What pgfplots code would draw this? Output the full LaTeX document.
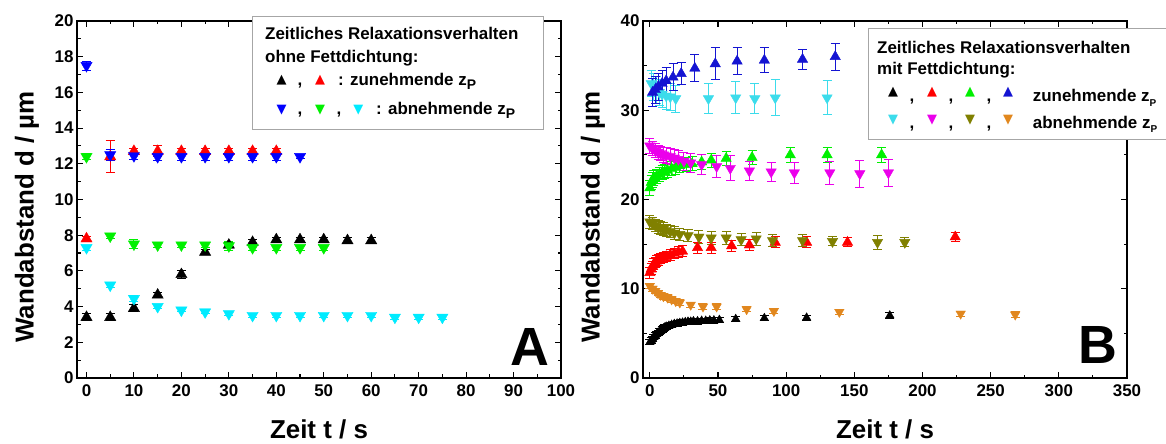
\documentclass[border=0pt]{standalone}
\usepackage{fontspec}
\setmainfont{Liberation Sans}
\newfontfamily\symfont{DejaVu Sans}
\usepackage{pgfplots}
\usepackage{pgfplotstable}
\pgfplotsset{compat=1.18}
\definecolor{cBlue}{RGB}{0,0,255}
\definecolor{cBlueB}{RGB}{20,20,210}
\definecolor{cRed}{RGB}{255,0,0}
\definecolor{cGreen}{RGB}{0,240,0}
\definecolor{cCyan}{RGB}{0,235,255}
\definecolor{cCyanB}{RGB}{60,220,235}
\definecolor{cMag}{RGB}{235,0,235}
\definecolor{cOlive}{RGB}{128,128,0}
\definecolor{cOrange}{RGB}{225,135,30}

% ---------- panel A ----------
\pgfplotstableread{
x y e
0 3.4 0.2
5 3.4 0.2
10 3.9 0.2
15 4.65 0.15
20 5.8 0.2
25 7.05 0.15
30 7.45 0.15
35 7.6 0.15
40 7.75 0.1
45 7.75 0.1
50 7.75 0.1
55 7.7 0.15
60 7.7 0.15
}\Ablack
\pgfplotstableread{
x y e
0 7.8 0.15
5 12.4 0.9
10 12.7 0.15
15 12.7 0.3
20 12.7 0.15
25 12.7 0.15
30 12.7 0.15
35 12.7 0.15
40 12.7 0.15
}\Ared
\pgfplotstableread{
x y e
0 17.5 0.25
5 12.5 0.3
10 12.45 0.2
15 12.4 0.2
20 12.4 0.2
25 12.4 0.2
30 12.4 0.2
35 12.4 0.2
40 12.4 0.2
45 12.4 0.1
}\Ablue
\pgfplotstableread{
x y e
0 12.4 0.15
5 7.95 0.15
10 7.5 0.25
15 7.45 0.15
20 7.45 0.15
25 7.45 0.15
30 7.4 0.25
35 7.3 0.15
40 7.3 0.15
45 7.3 0.15
50 7.3 0.15
}\Agreen
\pgfplotstableread{
x y e
0 7.3 0.15
5 5.2 0.15
10 4.45 0.15
15 4.0 0.1
20 3.8 0.1
25 3.7 0.1
30 3.6 0.1
35 3.5 0.1
40 3.5 0.1
45 3.5 0.1
50 3.5 0.1
55 3.5 0.1
60 3.5 0.1
65 3.4 0.1
70 3.4 0.1
75 3.4 0.1
}\Acyan

% ---------- panel B ----------
\pgfplotstableread{
x y e
0 4.0 0.3
1 4.2 0.3
2 4.4 0.3
3 4.6 0.3
4 4.75 0.3
5 4.9 0.3
6 5.05 0.3
7 5.2 0.3
8 5.3 0.3
9 5.45 0.3
10 5.55 0.3
11 5.65 0.3
12 5.75 0.3
14 5.85 0.3
16 5.95 0.3
18 6.05 0.3
20 6.1 0.3
22 6.15 0.3
24 6.2 0.3
26 6.25 0.3
28 6.3 0.3
30 6.3 0.3
32 6.35 0.3
35 6.35 0.3
38 6.4 0.3
41 6.4 0.3
44 6.45 0.3
47 6.45 0.3
51 6.5 0.3
63 6.6 0.3
84 6.7 0.3
115 6.75 0.3
176 7.0 0.3
}\Bblack
\pgfplotstableread{
x y e
0 11.8 0.6
1 12.2 0.6
2 12.5 0.6
3 12.8 0.6
4 12.95 0.6
5 13.1 0.6
6 13.2 0.6
8 13.4 0.6
10 13.5 0.6
12 13.6 0.6
15 13.8 0.6
18 13.95 0.6
21 14.1 0.6
24 14.2 0.6
35 14.6 0.6
45 14.6 0.6
60 14.8 0.6
73 14.9 0.6
92 15.2 0.6
115 15.2 0.6
145 15.2 0.5
224 15.8 0.5
}\Bred
\pgfplotstableread{
x y e
0 10.3 0.3
2 10.0 0.3
4 9.75 0.3
6 9.5 0.3
8 9.3 0.3
10 9.15 0.3
13 9.0 0.3
16 8.8 0.3
19 8.6 0.3
22 8.45 0.3
30 8.2 0.3
39 8.0 0.3
49 8.0 0.3
71 7.7 0.3
91 7.5 0.3
139 7.4 0.3
228 7.2 0.3
268 7.1 0.3
}\Borange
\pgfplotstableread{
x y e
0 17.5 0.7
2 17.3 0.7
4 17.1 0.7
6 16.9 0.7
8 16.8 0.7
10 16.7 0.7
12 16.55 0.7
15 16.4 0.7
18 16.25 0.7
22 16.1 0.7
28 15.95 0.7
36 15.8 0.7
45 15.7 0.7
56 15.7 0.7
67 15.5 0.7
78 15.6 0.7
90 15.4 0.7
112 15.4 0.7
134 15.3 0.5
167 15.2 0.8
187 15.2 0.5
}\Bolive
\pgfplotstableread{
x y e
0 21.3 0.8
1 21.9 0.8
2 22.2 0.8
3 22.4 0.8
5 22.6 0.8
7 22.8 0.8
9 23.0 0.8
11 23.1 0.8
13 23.25 0.8
16 23.45 0.8
19 23.6 0.8
22 23.8 0.8
27 23.9 0.8
31 24.0 0.8
38 24.2 0.8
45 24.4 0.8
56 24.6 0.8
75 24.7 0.8
103 25.0 0.8
130 25.0 0.8
170 25.0 0.8
}\Bgreen
\pgfplotstableread{
x y e
0 26.0 0.8
2 25.7 0.8
4 25.5 0.8
6 25.3 0.8
8 25.15 0.8
10 25.0 0.8
12 24.9 0.9
15 24.8 0.9
18 24.65 1.0
21 24.5 1.0
25 24.3 1.0
30 24.1 1.1
38 23.9 1.1
49 23.7 1.2
59 23.5 1.4
73 23.2 1.1
89 23.1 1.1
106 23.0 1.2
132 23.0 1.3
154 22.9 1.5
175 23.0 1.5
}\Bmag
\pgfplotstableread{
x y e
1 33.0 1.5
3 32.6 1.5
5 32.3 1.5
7 32.0 1.5
9 31.8 1.5
12 31.6 1.5
15 31.5 1.5
19 31.3 1.5
43 31.3 1.7
63 31.4 1.8
77 31.3 1.7
92 31.4 2.0
130 31.4 1.9
}\Bcyan
\pgfplotstableread{
x y e
2 32.0 1.6
4 32.3 1.5
6 32.6 1.5
9 33.0 1.5
12 33.3 1.5
17 33.7 1.5
23 34.1 1.2
33 34.7 1.5
48 35.2 1.8
64 35.5 1.5
84 35.6 1.4
112 35.7 1.1
136 36.0 1.5
}\Bblue

\pgfplotsset{
  panel/.style={
    scale only axis, width=484bp, height=357bp, anchor=south west,
    axis line style={line width=1.3bp},
    every tick/.style={black, line width=1.1bp},
    major tick length=6bp, minor tick length=3.5bp,
    tick align=inside,
    minor x tick num=1, minor y tick num=1,
    ticklabel style={font=\fontsize{17}{17}\selectfont\bfseries},
    /pgf/number format/assume math mode=true,
    xticklabel style={yshift=-3bp},
    clip=false,
  },
  up/.style={only marks, mark=triangle*, color=#1,
    mark options={solid},
    error bars/y dir=both, error bars/y explicit,
    error bars/error bar style={line width=1bp, color=#1},
    error bars/error mark options={rotate=90, mark size=4.5bp, line width=1bp, color=#1}},
  down/.style={only marks, mark=triangle*, color=#1,
    mark options={solid, rotate=180},
    error bars/y dir=both, error bars/y explicit,
    error bars/error bar style={line width=1bp, color=#1},
    error bars/error mark options={rotate=90, mark size=4.5bp, line width=1bp, color=#1}},
}

\begin{document}
\begin{tikzpicture}
\useasboundingbox (0,0) rectangle (1166bp,444bp);

% ===== Panel A =====
\begin{axis}[panel, at={(77bp,66bp)}, width=484bp,
  xmin=-2, xmax=100, ymin=0, ymax=20,
  xtick={0,10,...,100}, ytick={0,2,...,20}]
\addplot[up=black, mark size=6.5bp] table[x=x,y=y,y error=e] {\Ablack};
\addplot[up=cRed, mark size=6.5bp] table[x=x,y=y,y error=e] {\Ared};
\addplot[down=cBlue, mark size=6.5bp] table[x=x,y=y,y error=e] {\Ablue};
\addplot[down=cGreen, mark size=6.5bp] table[x=x,y=y,y error=e] {\Agreen};
\addplot[down=cCyan, mark size=6.5bp] table[x=x,y=y,y error=e] {\Acyan};
\end{axis}

% ===== Panel B =====
\begin{axis}[panel, at={(643bp,66bp)}, width=484bp,
  xmin=-5, xmax=350, ymin=0, ymax=40,
  xtick={0,50,...,350}, ytick={0,10,...,40}]
\addplot[up=black, mark size=5bp] table[x=x,y=y,y error=e] {\Bblack};
\addplot[down=cOrange, mark size=5.5bp] table[x=x,y=y,y error=e] {\Borange};
\addplot[up=cRed, mark size=6bp] table[x=x,y=y,y error=e] {\Bred};
\addplot[down=cOlive, mark size=6bp] table[x=x,y=y,y error=e] {\Bolive};
\addplot[up=cGreen, mark size=6bp] table[x=x,y=y,y error=e] {\Bgreen};
\addplot[down=cMag, mark size=6bp] table[x=x,y=y,y error=e] {\Bmag};
\addplot[down=cCyanB, mark size=6bp] table[x=x,y=y,y error=e] {\Bcyan};
\addplot[up=cBlueB, mark size=6bp] table[x=x,y=y,y error=e] {\Bblue};
\end{axis}

% ===== axis labels =====
\node[rotate=90, font=\fontsize{26}{26}\selectfont\bfseries] at (27bp,227bp) {Wandabstand d / µm};
\node[rotate=90, font=\fontsize{26}{26}\selectfont\bfseries] at (593bp,227bp) {Wandabstand d / µm};
\node[anchor=base, font=\fontsize{26}{26}\selectfont\bfseries] at (319bp,6bp) {Zeit t / s};
\node[anchor=base, font=\fontsize{26}{26}\selectfont\bfseries] at (885bp,6bp) {Zeit t / s};

% ===== panel letters =====
\node[font=\fontsize{54}{54}\selectfont\bfseries, inner sep=0pt] at (530bp,97bp) {A};
\node[font=\fontsize{54}{54}\selectfont\bfseries, inner sep=0pt] at (1098bp,99bp) {B};

% ===== legend A =====
\draw[gray!70, line width=1bp, fill=white] (252bp,314bp) rectangle (543bp,427bp);
\begin{scope}[every node/.style={inner sep=0pt, font=\fontsize{17}{17}\selectfont\bfseries}]
\node[anchor=base west] at (265bp,404bp) {Zeitliches Relaxationsverhalten};
\node[anchor=base west] at (265bp,381bp) {ohne Fettdichtung:};
\node[text=black, font=\symfont\fontsize{13}{13}\selectfont] at (281.7bp,364bp) {▲};
\node[anchor=base] at (300bp,358bp) {,};
\node[text=cRed, font=\symfont\fontsize{13}{13}\selectfont] at (320bp,364bp) {▲};
\node[anchor=base west] at (338bp,358bp) {: zunehmende z\raisebox{-0.35ex}{\fontsize{14}{14}\selectfont P}};
\node[text=cBlue, font=\symfont\fontsize{13}{13}\selectfont] at (281.7bp,334bp) {▼};
\node[anchor=base] at (300bp,329bp) {,};
\node[text=cGreen, font=\symfont\fontsize{13}{13}\selectfont] at (320bp,334bp) {▼};
\node[anchor=base] at (339bp,329bp) {,};
\node[text=cCyan, font=\symfont\fontsize{13}{13}\selectfont] at (358.3bp,334bp) {▼};
\node[anchor=base west] at (376bp,329bp) {: abnehmende z\raisebox{-0.35ex}{\fontsize{14}{14}\selectfont P}};
\end{scope}

% ===== legend B =====
\draw[gray!70, line width=1bp, fill=white] (868bp,304bp) rectangle (1175bp,415bp);
\begin{scope}[every node/.style={inner sep=0pt, font=\fontsize{17}{17}\selectfont\bfseries}]
\node[anchor=base west] at (877bp,390.7bp) {Zeitliches Relaxationsverhalten};
\node[anchor=base west] at (877bp,369bp) {mit Fettdichtung:};
\node[text=black, font=\symfont\fontsize{13}{13}\selectfont] at (893bp,352.3bp) {▲};
\node[anchor=base] at (912bp,342.3bp) {,};
\node[text=cRed, font=\symfont\fontsize{13}{13}\selectfont] at (932bp,352.3bp) {▲};
\node[anchor=base] at (951bp,342.3bp) {,};
\node[text=cGreen, font=\symfont\fontsize{13}{13}\selectfont] at (970bp,352.3bp) {▲};
\node[anchor=base] at (989bp,342.3bp) {,};
\node[text=cBlueB, font=\symfont\fontsize{13}{13}\selectfont] at (1008bp,352.3bp) {▲};
\node[anchor=base west] at (1032.7bp,342.3bp) {zunehmende z\raisebox{-0.5ex}{\fontsize{10}{10}\selectfont P}};
\node[text=cCyanB, font=\symfont\fontsize{13}{13}\selectfont] at (893bp,324bp) {▼};
\node[anchor=base] at (912bp,315.7bp) {,};
\node[text=cMag, font=\symfont\fontsize{13}{13}\selectfont] at (932bp,324bp) {▼};
\node[anchor=base] at (951bp,315.7bp) {,};
\node[text=cOlive, font=\symfont\fontsize{13}{13}\selectfont] at (970bp,324bp) {▼};
\node[anchor=base] at (989bp,315.7bp) {,};
\node[text=cOrange, font=\symfont\fontsize{13}{13}\selectfont] at (1008bp,324bp) {▼};
\node[anchor=base west] at (1032.7bp,315.7bp) {abnehmende z\raisebox{-0.5ex}{\fontsize{10}{10}\selectfont P}};
\end{scope}
\end{tikzpicture}
\end{document}
